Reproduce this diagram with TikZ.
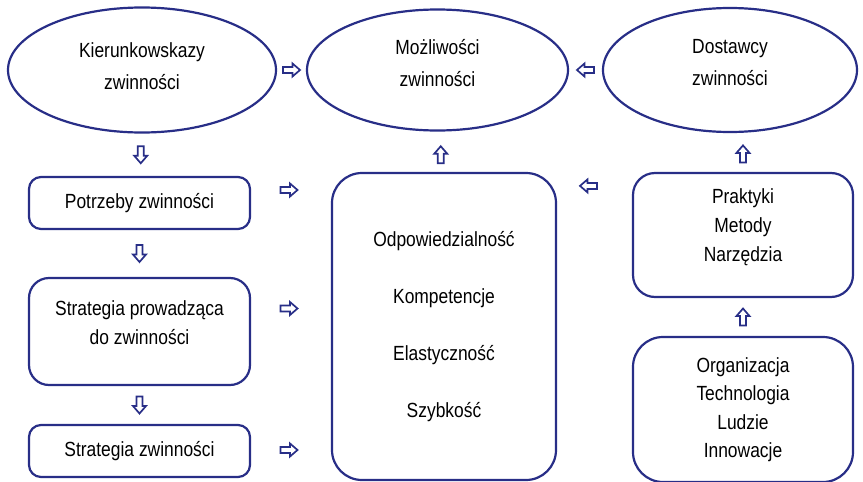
\documentclass[tikz,border=0pt]{standalone}
\usepackage{fontspec}
\setmainfont{Liberation Sans}[FakeStretch=0.85]
\usetikzlibrary{shapes.geometric,calc}
\definecolor{navy}{RGB}{40,46,135}
\tikzset{
  every node/.style={font=\fontsize{20.5}{29}\selectfont, text=black},
  oval/.style={ellipse, draw=navy, line width=2.2pt, fill=white, inner sep=0pt, align=center},
  rbox/.style={rectangle, draw=navy, line width=2.2pt, fill=white, align=center, inner sep=0pt},
  txt/.style={align=center, inner sep=0pt},
  barr/.pic={\draw[navy, line width=1.7pt, fill=white, line join=miter]
     (-8.5,-3) -- (1,-3) -- (1,-6.5) -- (8.5,0) -- (1,6.5) -- (1,3) -- (-8.5,3) -- cycle;}
}
\begin{document}
\begin{tikzpicture}[x=1pt,y=-1pt]
\useasboundingbox (0,0) rectangle (863,482);
% ellipses
\node[oval, minimum width=268pt, minimum height=125pt,
      label={[txt, yshift=4pt, font=\fontsize{20.5}{32}\selectfont]center:{Kierunkowskazy\\zwinności}}] (e1) at (142,70) {};
\node[oval, minimum width=261pt, minimum height=121pt,
      label={[txt, yshift=7pt, font=\fontsize{20.5}{32}\selectfont]center:{Możliwości\\zwinności}}] (e2) at (437.5,70) {};
\node[oval, minimum width=254pt, minimum height=124pt,
      label={[txt, yshift=7pt, font=\fontsize{20.5}{32}\selectfont]center:{Dostawcy\\zwinności}}] (e3) at (730,70) {};
% left column
\node[rbox, rounded corners=12pt, minimum width=221pt, minimum height=52pt] (potr) at (139.5,203) {Potrzeby zwinności};
\node[rbox, rounded corners=20pt, minimum width=221pt, minimum height=107pt,
      label={[txt, yshift=9pt]center:{Strategia prowadząca\\do zwinności}}] (strat1) at (139.5,331.5) {};
\node[rbox, rounded corners=12pt, minimum width=221pt, minimum height=52pt] (strat2) at (139.5,451) {Strategia zwinności};
% centre
\node[rbox, rounded corners=30pt, minimum width=224pt, minimum height=307pt, font=\fontsize{20.5}{57}\selectfont] (big) at (444,326.5)
  {Odpowiedzialność\\Kompetencje\\Elastyczność\\Szybkość};
% right column
\node[rbox, rounded corners=22pt, minimum width=220pt, minimum height=124pt,
      label={[txt, yshift=8pt]center:{Praktyki\\Metody\\Narzędzia}}] (prak) at (743,235) {};
\node[rbox, rounded corners=30pt, minimum width=220pt, minimum height=145pt, font=\fontsize{20.5}{28.5}\selectfont] (org) at (743,409.5)
  {Organizacja\\Technologia\\Ludzie\\Innowacje};
% block arrows
\pic at ($(e1.east)!0.5!(e2.west)$) {barr};
\pic[rotate=180] at ($(e2.east)!0.5!(e3.west)$) {barr};
\pic[rotate=-90] at ($(e1.south)!0.5!(potr.north)$) {barr};
\pic[rotate=-90] at ($(potr.south)!0.5!(strat1.north)$) {barr};
\pic[rotate=-90] at ($(strat1.south)!0.5!(strat2.north)$) {barr};
\pic at ($(potr.east)!0.5!(potr.east -| big.west)+(-2,-13)$) {barr};
\pic at ($(strat1.east)!0.5!(strat1.east -| big.west)+(-2,-23)$) {barr};
\pic at ($(strat2.east)!0.5!(strat2.east -| big.west)+(-2,-1)$) {barr};
\pic[rotate=180] at ($(big.north east)!0.5!(prak.north west)+(-6,14)$) {barr};
\pic[rotate=90] at ($(e2.south)!0.5!(big.north)+(0,3)$) {barr};
\pic[rotate=90] at ($(prak.north)+(0,-18)$) {barr};
\pic[rotate=90] at ($(prak.south)!0.5!(org.north)$) {barr};
\end{tikzpicture}
\end{document}
